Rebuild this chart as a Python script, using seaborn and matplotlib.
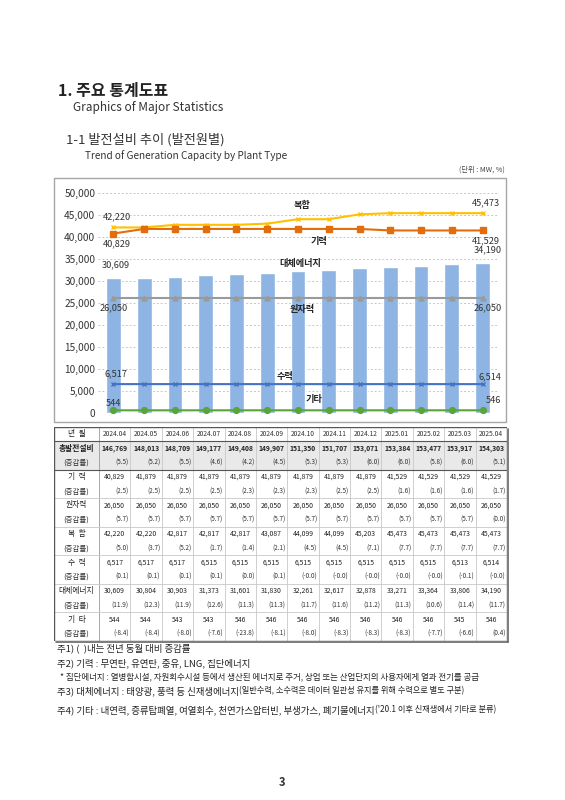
import numpy as np
import pandas as pd
import seaborn as sns
import matplotlib.pyplot as plt
from matplotlib.patches import Rectangle
from matplotlib.ticker import FuncFormatter

months = ['2024.04', '2024.05', '2024.06', '2024.07', '2024.08', '2024.09', '2024.10',
          '2024.11', '2024.12', '2025.01', '2025.02', '2025.03', '2025.04']
total = [146769, 148013, 148709, 149177, 149408, 149907, 151350, 151707, 153071, 153384, 153477, 153917, 154303]
total_pct = ['5.5', '5.2', '5.5', '4.6', '4.2', '4.5', '5.3', '5.3', '6.0', '6.0', '5.8', '6.0', '5.1']
thermal = [40829, 41879, 41879, 41879, 41879, 41879, 41879, 41879, 41879, 41529, 41529, 41529, 41529]
thermal_pct = ['2.5', '2.5', '2.5', '2.5', '2.3', '2.3', '2.3', '2.5', '2.5', '1.6', '1.6', '1.6', '1.7']
nuclear = [26050, 26050, 26050, 26050, 26050, 26050, 26050, 26050, 26050, 26050, 26050, 26050, 26050]
nuclear_pct = ['5.7', '5.7', '5.7', '5.7', '5.7', '5.7', '5.7', '5.7', '5.7', '5.7', '5.7', '5.7', '0.0']
combined = [42220, 42220, 42817, 42817, 42817, 43087, 44099, 44099, 45203, 45473, 45473, 45473, 45473]
combined_pct = ['5.0', '3.7', '5.2', '1.7', '1.4', '2.1', '4.5', '4.5', '7.1', '7.7', '7.7', '7.7', '7.7']
hydro = [6517, 6517, 6517, 6515, 6515, 6515, 6515, 6515, 6515, 6515, 6515, 6513, 6514]
hydro_pct = ['0.1', '0.1', '0.1', '0.1', '0.0', '0.1', '-0.0', '-0.0', '-0.0', '-0.0', '-0.0', '-0.1', '-0.0']
renew = [30609, 30804, 30903, 31373, 31601, 31830, 32261, 32617, 32878, 33271, 33364, 33806, 34190]
renew_pct = ['11.9', '12.3', '11.9', '12.6', '11.3', '11.3', '11.7', '11.6', '11.2', '11.3', '10.6', '11.4', '11.7']
other = [544, 544, 543, 543, 546, 546, 546, 546, 546, 546, 546, 545, 546]
other_pct = ['-8.4', '-8.4', '-8.0', '-7.6', '-23.8', '-8.1', '-8.0', '-8.3', '-8.3', '-8.3', '-7.7', '-6.6', '0.4']

sns.set_theme(style='white')
plt.rcParams['font.family'] = ['Noto Sans CJK KR', 'DejaVu Sans']
plt.rcParams['text.color'] = '#222222'

W, H = 565, 800
fig = plt.figure(figsize=(W / 100, H / 100), dpi=100)
fig.patch.set_facecolor('white')


def fx(x):
    return x / W


def fy(y):
    return 1 - y / H


# page headings
fig.text(fx(58), fy(91), '1. 주요 통계도표', fontsize=11.5, fontweight='bold', va='center')
fig.text(fx(73), fy(107), 'Graphics of Major Statistics', fontsize=8.5, va='center', color='#333333')
fig.text(fx(66), fy(140), '1-1 발전설비 추이 (발전원별)', fontsize=9.5, va='center', color='#333333')
fig.text(fx(85), fy(156), 'Trend of Generation Capacity by Plant Type', fontsize=7.2, va='center', color='#333333')
fig.text(fx(505), fy(170), '(단위 : MW, %)', fontsize=5.2, va='center', ha='right', color='#444444')

# chart frame
fig.patches.append(Rectangle((fx(54), fy(422)), fx(506) - fx(54), fy(178) - fy(422),
                             transform=fig.transFigure, fill=False, ec='#a6a6a6', lw=1))

ax = fig.add_axes([fx(98), fy(412.7), 400 / W, 219.4 / H])
df = pd.DataFrame({'month': months, 'renew': renew})
sns.barplot(data=df, x='month', y='renew', color='#8DB4E2', saturation=1, width=0.48, ax=ax, zorder=2)

x_idx = np.arange(len(months))
series = [
    (combined, '#FFC000', 'x', 3.5),
    (thermal, '#E46C0A', 's', 3.8),
    (nuclear, '#9A9A9A', '^', 3.5),
    (hydro, '#4472C4', 'x', 3.5),
    (other, '#5BA43A', 'o', 4.2),
]
for vals, col, mk, ms in series:
    sns.lineplot(x=x_idx, y=vals, color=col, marker=mk, markersize=ms, lw=1.5,
                 markeredgecolor=col, markeredgewidth=1, ax=ax, zorder=3, clip_on=False)

ax.set_xlim(-0.5, len(months) - 0.5)
ax.set_ylim(0, 50000)
ax.set_yticks(np.arange(0, 50001, 5000))
ax.yaxis.set_major_formatter(FuncFormatter(lambda v, p: f'{int(v):,}'))
ax.tick_params(axis='y', labelsize=7.3, pad=2, length=0, colors='#333333')
ax.set_xticks([])
ax.set_xlabel('')
ax.set_ylabel('')
ax.yaxis.grid(True, ls=(0, (2, 2)), color='#c6c6c6', lw=0.7)
ax.set_axisbelow(True)
for s in ax.spines.values():
    s.set_visible(False)


def value_label(i, vals, dx, dy):
    ax.annotate(f'{vals[i]:,}', (i, vals[i]), xytext=(dx, dy), textcoords='offset pixels',
                ha='center', va='center', fontsize=6.6, color='#333333', zorder=5)


def series_label(i, vals, txt, dx, dy):
    ax.annotate(txt, (i, vals[i]), xytext=(dx, dy), textcoords='offset pixels',
                ha='center', va='center', fontsize=6.6, fontweight='bold', color='#222222',
                zorder=6)


last = len(months) - 1
value_label(0, combined, 3.6, 10.4)
value_label(0, thermal, 3.6, -10.5)
value_label(last, combined, 3, 10.5)
value_label(last, thermal, 3.4, -10.2)
value_label(last, renew, 5.4, 12.7)
value_label(0, renew, 2, 14)
value_label(0, nuclear, 0.6, -9)
value_label(last, nuclear, 5.4, -9)
value_label(0, hydro, 2.6, 10)
value_label(last, hydro, 7.4, 7.4)
value_label(0, other, -0.4, 7)
value_label(last, other, 10.4, 9.6)

mid = 6
series_label(mid, combined, '복합', 4, 14.2)
series_label(mid, thermal, '기력', 21, -12.8)
series_label(mid, renew, '대체에너지', 2, 8)
series_label(mid, nuclear, '원자력', 4, -11.6)
series_label(mid, hydro, '수력', -13, 8)
series_label(mid, other, '기타', 16, 11)

# data table
TW, TH = 453, 214
tab = fig.add_axes([fx(54), fy(641), TW / W, TH / H])
tab.set_xlim(0, TW)
tab.set_ylim(TH, 0)
tab.axis('off')

c0 = 45
cw = (TW - c0) / len(months)
rh = TH / 15

groups = [
    ('총발전설비', total, total_pct),
    ('기  력', thermal, thermal_pct),
    ('원자력', nuclear, nuclear_pct),
    ('복  합', combined, combined_pct),
    ('수  력', hydro, hydro_pct),
    ('대체에너지', renew, renew_pct),
    ('기  타', other, other_pct),
]

tab.add_patch(Rectangle((0, rh), TW, 2 * rh, fc='#e9e9e9', ec='none', zorder=0))

for i in range(len(months)):
    tab.plot([c0 + i * cw] * 2, [0, TH], color='#c8c8c8' if i else '#9a9a9a', lw=0.6, zorder=1)
for r in range(5, 15, 2):
    tab.plot([0, TW], [r * rh] * 2, color='#c8c8c8', lw=0.6, zorder=1)
for r in (1, 3):
    tab.plot([0, TW], [r * rh] * 2, color='#555555', lw=0.8, zorder=2)
tab.add_patch(Rectangle((0, 0), TW, TH, fill=False, ec='#555555', lw=1.0, zorder=3))
tab.plot([TW + 1, TW + 1], [1.5, TH + 1], color='#666666', lw=1.2, zorder=3, clip_on=False)
tab.plot([1.5, TW + 1], [TH + 1, TH + 1], color='#666666', lw=1.2, zorder=3, clip_on=False)

tab.text(c0 / 2, rh / 2, '년  월', ha='center', va='center', fontsize=5.6)
for i, m in enumerate(months):
    tab.text(c0 + (i + 0.5) * cw, rh / 2, m, ha='center', va='center', fontsize=4.8, color='#333333')

for g, (name, vals, pcts) in enumerate(groups):
    r1 = 1 + 2 * g
    bold = 'bold' if g == 0 else 'normal'
    tab.text(c0 / 2, (r1 + 0.5) * rh, name, ha='center', va='center', fontsize=5.6, fontweight=bold)
    tab.text(c0 / 2, (r1 + 1.5) * rh, '(증감률)', ha='center', va='center', fontsize=5.4, color='#333333')
    for i in range(len(months)):
        tab.text(c0 + (i + 0.5) * cw, (r1 + 0.5) * rh, f'{vals[i]:,}', ha='center', va='center',
                 fontsize=4.9, fontweight=bold, color='#222222')
        tab.text(c0 + (i + 1) * cw - 1.5, (r1 + 1.5) * rh, f'({pcts[i]})', ha='right', va='center',
                 fontsize=4.6, color='#333333')

# footnotes
fig.text(fx(57), fy(648), '주1) (  )내는 전년 동월 대비 증감률', fontsize=6.8, va='center')
fig.text(fx(57), fy(663), '주2) 기력 : 무연탄, 유연탄, 중유, LNG, 집단에너지', fontsize=6.8, va='center')
fig.text(fx(60), fy(677), '* 집단에너지 : 열병합시설, 자원회수시설 등에서 생산된 에너지로 주거, 상업 또는 산업단지의 사용자에게 열과 전기를 공급',
         fontsize=6.1, va='center')
t3 = fig.text(fx(57), fy(691), '주3) 대체에너지 : 태양광, 풍력 등 신재생에너지', fontsize=6.8, va='center')
t4 = fig.text(fx(57), fy(710), '주4) 기타 : 내연력, 증류탑폐열, 여열회수, 천연가스압터빈, 부생가스, 폐기물에너지', fontsize=6.8, va='center')
fig.canvas.draw()
r = fig.canvas.get_renderer()
x3 = t3.get_window_extent(r).x1
x4 = t4.get_window_extent(r).x1
fig.text(x3 / W, fy(691), '(일반수력, 소수력은 데이터 일관성 유지를 위해 수력으로 별도 구분)', fontsize=5.9, va='center')
fig.text(x4 / W, fy(710), "('20.1 이후 신재생에서 기타로 분류)", fontsize=5.9, va='center')

fig.text(fx(282), fy(782), '3', fontsize=8, ha='center', va='center', fontweight='bold', color='#333333')

fig.savefig('out.png', dpi=100)
